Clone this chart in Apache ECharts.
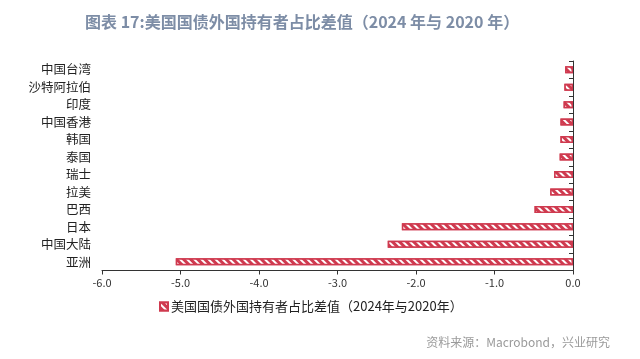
<!DOCTYPE html>
<html>
<head>
<meta charset="utf-8">
<script src="https://cdn.jsdelivr.net/npm/echarts@6/dist/echarts.min.js"></script>
<style>
html,body{margin:0;padding:0;background:#fff;}
#c{width:640px;height:359px;}
</style>
</head>
<body>
<div id="c"></div>
<script>
var titleText = '图表 17:美国国债外国持有者占比差值（2024 年与 2020 年）';
var sourceText = '资料来源：Macrobond，兴业研究';
var seriesName = '美国国债外国持有者占比差值（2024年与2020年）';
var categories = ['中国台湾','沙特阿拉伯','印度','中国香港','韩国','泰国','瑞士','拉美','巴西','日本','中国大陆','亚洲'];
var values = [-0.10,-0.11,-0.12,-0.16,-0.16,-0.17,-0.24,-0.29,-0.49,-2.18,-2.36,-5.06];
var xTicks = [-6, 0, 1];

var red = '#cf3a4f';
var font = '"Noto Sans CJK SC", "Noto Sans", sans-serif';
var decal = {symbol:'rect', symbolSize:1, dashArrayX:[1,0], dashArrayY:[2,3], rotation:Math.PI/4, color:'#ffffff'};
var chart = echarts.init(document.getElementById('c'), null, {renderer:'canvas'});
chart.setOption({
  animation:false,
  backgroundColor:'#fff',
  title:{
    text:titleText, left:80, top:9,
    textStyle:{color:'#7d8da6', fontSize:16, fontWeight:'bold', fontFamily:font}
  },
  graphic:[{
    type:'text', right:30, top:336,
    style:{text:sourceText, fill:'#9a9a9a', font:'12px '+font}
  }],
  legend:{
    left:154, top:295, itemWidth:8, itemHeight:8, itemGap:4, icon:'rect',
    textStyle:{color:'#222', fontSize:13, fontFamily:font, padding:[0,0,0,-2]},
    data:[seriesName]
  },
  grid:{left:102, right:67, top:61, bottom:88.5},
  xAxis:{
    type:'value', min:xTicks[0], max:xTicks[1], interval:xTicks[2],
    axisLine:{show:true, lineStyle:{color:'#333', width:1}},
    axisTick:{show:true, length:4, lineStyle:{color:'#333'}},
    splitLine:{show:false},
    axisLabel:{color:'#333', fontSize:11, fontFamily:font, margin:7,
      formatter:function(v){return v.toFixed(1);}}
  },
  yAxis:[{
    type:'category', data:categories, inverse:true, position:'left',
    axisLine:{show:false}, axisTick:{show:false},
    axisLabel:{color:'#222', fontSize:12.5, fontFamily:font, margin:11}
  },{
    type:'category', data:categories, inverse:true, position:'right',
    axisLine:{show:true, lineStyle:{color:'#333'}},
    axisTick:{show:true, inside:true, length:4, lineStyle:{color:'#333'}},
    axisLabel:{show:false}
  }],
  series:[{
    name:seriesName, type:'bar', data:values, barWidth:7,
    itemStyle:{color:red, borderColor:red, borderWidth:1.5, decal:decal}
  }]
});
</script>
</body>
</html>
